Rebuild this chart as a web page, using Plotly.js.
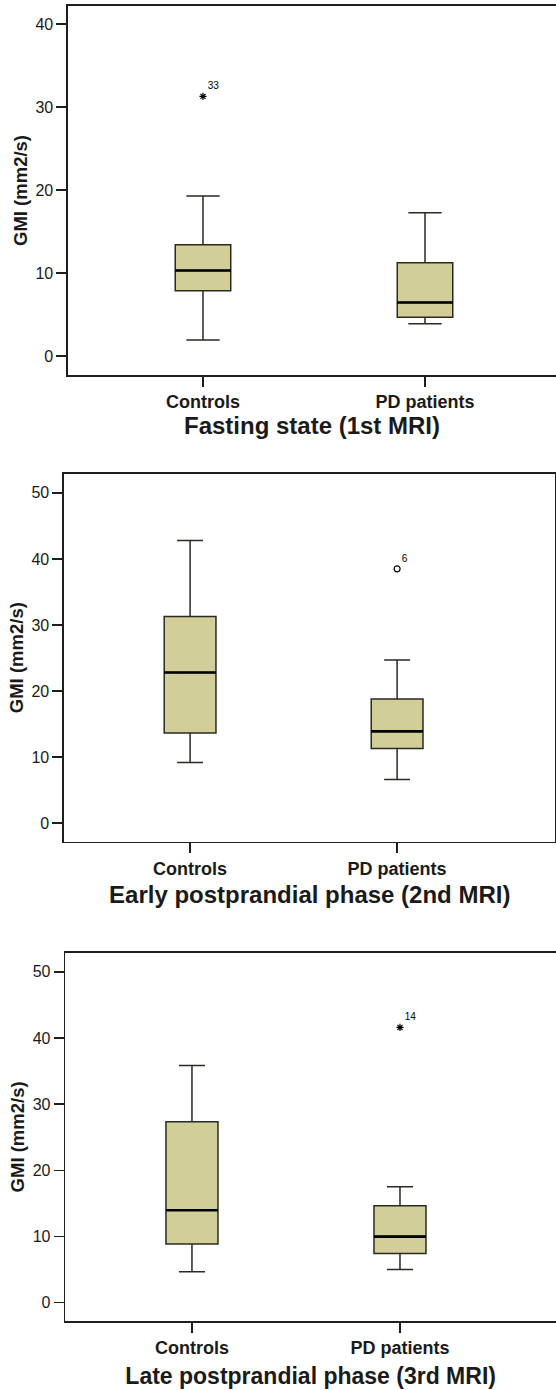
<!DOCTYPE html>
<html>
<head>
<meta charset="utf-8">
<script src="https://cdn.plot.ly/plotly-3.0.1.min.js"></script>
<style>html,body{margin:0;padding:0;background:#fff;}#chart{width:556px;height:1390px;}</style>
</head>
<body>
<div id="chart"></div>
<script>
// ---- data ----
const groups = ['Controls', 'PD patients'];
const panelTitles = ['Fasting state (1st MRI)', 'Early postprandial phase (2nd MRI)', 'Late postprandial phase (3rd MRI)'];
const yTitle = 'GMI (mm2/s)';

// Fasting state
const fastLower  = [1.93, 3.87];
const fastQ1     = [7.85, 4.67];
const fastMedian = [10.3, 6.44];
const fastQ3     = [13.4, 11.24];
const fastUpper  = [19.3, 17.28];
const fastOutGroup = ['Controls'];
const fastOutValue = [31.3];
const fastOutLabel = ['33'];

// Early postprandial
const earlyLower  = [9.2, 6.6];
const earlyQ1     = [13.66, 11.3];
const earlyMedian = [22.8, 13.9];
const earlyQ3     = [31.3, 18.8];
const earlyUpper  = [42.8, 24.7];
const earlyOutGroup = ['PD patients'];
const earlyOutValue = [38.5];
const earlyOutLabel = ['6'];

// Late postprandial
const lateLower  = [4.64, 4.98];
const lateQ1     = [8.87, 7.4];
const lateMedian = [13.95, 9.97];
const lateQ3     = [27.35, 14.65];
const lateUpper  = [35.86, 17.5];
const lateOutGroup = ['PD patients'];
const lateOutValue = [41.6];
const lateOutLabel = ['14'];

const yTicks1 = [0, 10, 20, 30, 40];
const yTicks23 = [0, 10, 20, 30, 40, 50];

// ---- styles ----
const FILL = 'rgb(210,206,152)';
const BOXLINE = '#2a2a24';
const AXCOL = '#1e1e1e';
const FONT = 'Liberation Sans, Arial, sans-serif';

const panels = [
  {lo: fastLower, q1: fastQ1, med: fastMedian, q3: fastQ3, hi: fastUpper,
   og: fastOutGroup, ov: fastOutValue, ol: fastOutLabel, sym: 'asterisk-open', ww: 0.6},
  {lo: earlyLower, q1: earlyQ1, med: earlyMedian, q3: earlyQ3, hi: earlyUpper,
   og: earlyOutGroup, ov: earlyOutValue, ol: earlyOutLabel, sym: 'circle-open', ww: 0.5},
  {lo: lateLower, q1: lateQ1, med: lateMedian, q3: lateQ3, hi: lateUpper,
   og: lateOutGroup, ov: lateOutValue, ol: lateOutLabel, sym: 'asterisk-open', ww: 0.5}
];

const traces = [];
panels.forEach((p, i) => {
  const xa = i === 0 ? 'x' : 'x' + (i + 1);
  const ya = i === 0 ? 'y' : 'y' + (i + 1);
  traces.push({
    type: 'box', x: groups, q1: p.q1, median: p.med, q3: p.q3,
    lowerfence: p.lo, upperfence: p.hi,
    xaxis: xa, yaxis: ya, width: 0.25, whiskerwidth: p.ww,
    fillcolor: FILL, line: {color: BOXLINE, width: 1.5},
    boxpoints: false, hoverinfo: 'skip', showlegend: false
  });
  // thick median line overlay (degenerate box at the median)
  traces.push({
    type: 'box', x: groups, q1: p.med, median: p.med, q3: p.med,
    lowerfence: p.med, upperfence: p.med,
    xaxis: xa, yaxis: ya, width: 0.25, whiskerwidth: 0,
    fillcolor: 'rgba(0,0,0,0)', line: {color: '#000', width: 2.6},
    boxpoints: false, hoverinfo: 'skip', showlegend: false
  });
  traces.push({
    type: 'scatter', mode: 'markers+text', x: p.og, y: p.ov, text: p.ol,
    textposition: 'top right',
    textfont: {family: FONT, size: 10, color: '#000'},
    xaxis: xa, yaxis: ya,
    marker: {symbol: p.sym, size: 6, color: '#000',
             line: {color: '#000', width: 1.2}},
    hoverinfo: 'skip', showlegend: false, cliponaxis: false
  });
});

function xaxis(domain, range, standoff, titleText, titleSize, mirror) {
  return {
    domain: domain, range: range, type: 'category',
    showline: true, linecolor: AXCOL, linewidth: 1.6, mirror: mirror,
    ticks: 'outside', ticklen: 10, tickwidth: 1.5, tickcolor: AXCOL,
    tickfont: {family: FONT, size: 18, color: '#1a1a1a', weight: 'bold'},
    showgrid: false, zeroline: false, fixedrange: true,
    title: {text: titleText, standoff: standoff,
            font: {family: FONT, size: titleSize, color: '#1a1a1a', weight: 'bold'}}
  };
}
function yaxis(domain, range, ticks, mirror, standoff) {
  return {
    domain: domain, range: range, tickmode: 'array', tickvals: ticks,
    showline: true, linecolor: AXCOL, linewidth: 1.6, mirror: mirror,
    ticks: 'outside', ticklen: 10, tickwidth: 1.5, tickcolor: AXCOL,
    tickfont: {family: FONT, size: 16, color: '#1a1a1a'},
    showgrid: false, zeroline: false, fixedrange: true,
    title: {text: yTitle, standoff: standoff,
            font: {family: FONT, size: 18.5, color: '#1a1a1a', weight: 'bold'}}
  };
}

const layout = {
  width: 556, height: 1390,
  margin: {l: 0, r: 0, t: 0, b: 0},
  paper_bgcolor: '#fff', plot_bgcolor: '#fff',
  showlegend: false,
  xaxis:  xaxis([0.1223, 1], [-0.608, 1.59], 2, panelTitles[0], 24, true),
  yaxis:  yaxis([0.7302, 0.9957], [-2.3, 42.2], yTicks1, false, 3),
  xaxis2: xaxis([0.1151, 0.9991], [-0.609, 1.765], 8, panelTitles[1], 24, true),
  yaxis2: yaxis([0.3945, 0.6592], [-2.8, 52.9], yTicks23, true, 3),
  xaxis3: xaxis([0.1174, 1], [-0.609, 1.75], 10, panelTitles[2], 23, true),
  yaxis3: yaxis([0.0496, 0.3146], [-2.8, 52.9], yTicks23, false, 3)
};
layout.yaxis2.anchor = 'x2';
layout.xaxis2.anchor = 'y2';
layout.yaxis3.anchor = 'x3';
layout.xaxis3.anchor = 'y3';

Plotly.newPlot('chart', traces, layout, {displayModeBar: false, staticPlot: true});
</script>
</body>
</html>
